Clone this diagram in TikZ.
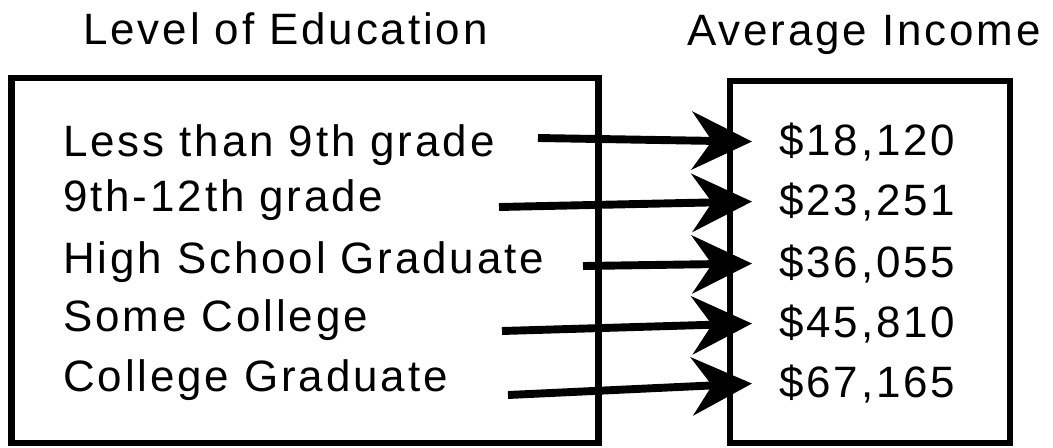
\documentclass[tikz,border=0pt]{standalone}
\usepackage{fontspec}
\setmainfont[LetterSpace=6.5]{Liberation Sans}
\usepackage{tikz}
\usetikzlibrary{arrows.meta}

\begin{document}
\begin{tikzpicture}[
  heading/.style={anchor=base west, inner sep=0pt, font=\fontsize{25}{30}\selectfont},
  eduitem/.style={anchor=base west, inner sep=0pt, font=\fontsize{25}{30}\selectfont},
  money/.style={anchor=base west, inner xsep=0.54cm, inner ysep=0.333em, font=\fontsize{25}{30}\selectfont},
  panel/.style={rectangle, draw=black, line width=3.8pt, fill=none},
  arrow/.style={-{Stealth[length=1.2cm, width=1.16cm, inset=0.4cm]}, line width=4.5pt}
]
\useasboundingbox (0,0) rectangle (21.06,-8.94);
\node[heading] (edutitle) at (1.66,-0.88) {Level of Education};
\node[heading] (inctitle) at (13.74,-0.90) {Average Income};
\node[panel, minimum width=11.73cm, minimum height=7.30cm] (edubox) at (6.10,-5.21) {};
\node[panel, minimum width=5.60cm, minimum height=7.24cm] (incbox) at (17.40,-5.24) {};
\node[eduitem] (edu1) at (1.26,-3.13) {Less than 9th grade};
\node[eduitem] (edu2) at (1.26,-4.23) {9th-12th grade};
\node[eduitem] (edu3) at (1.26,-5.46) {High School Graduate};
\node[eduitem] (edu4) at (1.26,-6.63) {Some College};
\node[eduitem] (edu5) at (1.26,-7.83) {College Graduate};
\node[money] (inc1) at (15.04,-3.10) {\$18,120};
\node[money] (inc2) at (15.04,-4.30) {\$23,251};
\node[money] (inc3) at (15.04,-5.54) {\$36,055};
\node[money] (inc4) at (15.04,-6.74) {\$45,810};
\node[money] (inc5) at (15.04,-7.94) {\$67,165};
\coordinate (from1) at (10.76,-2.76);
\coordinate (from2) at (9.98,-4.14);
\coordinate (from3) at (11.66,-5.32);
\coordinate (from4) at (10.04,-6.62);
\coordinate (from5) at (10.16,-7.90);
\draw[arrow] (from1) -- (inc1.west);
\draw[arrow] (from2) -- (inc2.west);
\draw[arrow] (from3) -- (inc3.west);
\draw[arrow] (from4) -- (inc4.west);
\draw[arrow] (from5) -- (inc5.west);
\end{tikzpicture}
\end{document}
